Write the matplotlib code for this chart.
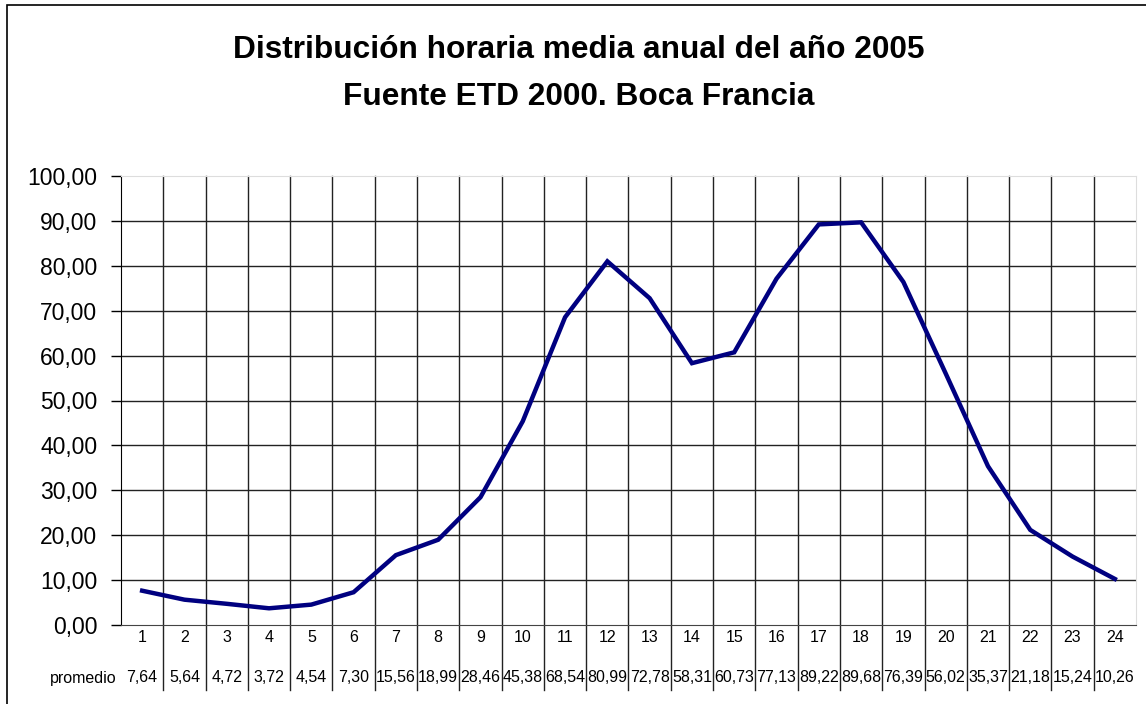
import numpy as np
import matplotlib.pyplot as plt
from matplotlib.patches import Rectangle
import matplotlib.transforms as mtransforms

plt.rcParams['font.family'] = ['Liberation Sans', 'DejaVu Sans']

horas = list(range(1, 25))
promedio = [7.64, 5.64, 4.72, 3.72, 4.54, 7.30, 15.56, 18.99, 28.46, 45.38,
            68.54, 80.99, 72.78, 58.31, 60.73, 77.13, 89.22, 89.68, 76.39,
            56.02, 35.37, 21.18, 15.24, 10.26]
y_ticks = list(range(0, 101, 10))
titulo = ["Distribución horaria media anual del año 2005",
          "Fuente ETD 2000. Boca Francia"]


def fmt(v):
    return ("%.2f" % v).replace(".", ",")


W, H = 1146, 704
fig = plt.figure(figsize=(W / 100, H / 100), dpi=100)

# outer chart frame (cut by the image edge on the right and bottom)
fig.patches.append(Rectangle((7 / W, -0.1), 1.2, (H - 5) / H + 0.1,
                             transform=fig.transFigure, fill=False,
                             edgecolor="black", linewidth=1.2))

left, right, top, bottom = 121, 1136, 176, 625
ax = fig.add_axes([left / W, (H - bottom) / H, (right - left) / W,
                   (bottom - top) / H])

ax.plot(horas, promedio, color="#000080", linewidth=3.2, solid_joinstyle="miter")
ax.set_xlim(0.5, 24.5)
ax.set_ylim(0, 100)
ax.set_yticks(y_ticks)
ax.set_yticklabels([fmt(v) for v in y_ticks], fontsize=16.5)
ax.set_xticks([])
ax.tick_params(axis="y", length=7, width=1, pad=10)

for v in y_ticks[1:-1]:
    ax.axhline(v, color="#222222", linewidth=1, zorder=0)

# vertical grid lines continue down through the data table
trans = mtransforms.blended_transform_factory(ax.transData, ax.transAxes)
table_bottom = -(690 - bottom) / (bottom - top)
for x in np.arange(1.5, 24, 1.0):
    ax.plot([x, x], [table_bottom, 1], color="#222222", linewidth=1,
            transform=trans, clip_on=False, zorder=0)

ax.spines["left"].set_color("black")
ax.spines["bottom"].set_color("#444444")
ax.spines["top"].set_color("#dddddd")
ax.spines["right"].set_color("#dddddd")

# data table rows
row1 = -(638 - bottom) / (bottom - top)
row2 = -(678 - bottom) / (bottom - top)
for h, v in zip(horas, promedio):
    ax.text(h, row1, str(h), transform=trans, ha="center", va="center",
            fontsize=11.5)
    ax.text(h, row2, fmt(v), transform=trans, ha="center", va="center",
            fontsize=11.5)
ax.text(117 / W, (H - 678) / H, "promedio", transform=fig.transFigure,
        ha="right", va="center", fontsize=11.5)

fig.text(579 / W, (H - 50) / H, titulo[0], ha="center", va="center",
         fontsize=22.8, fontweight="bold")
fig.text(579 / W, (H - 97) / H, titulo[1], ha="center", va="center",
         fontsize=22.8, fontweight="bold")

fig.savefig("out.png", dpi=100)
